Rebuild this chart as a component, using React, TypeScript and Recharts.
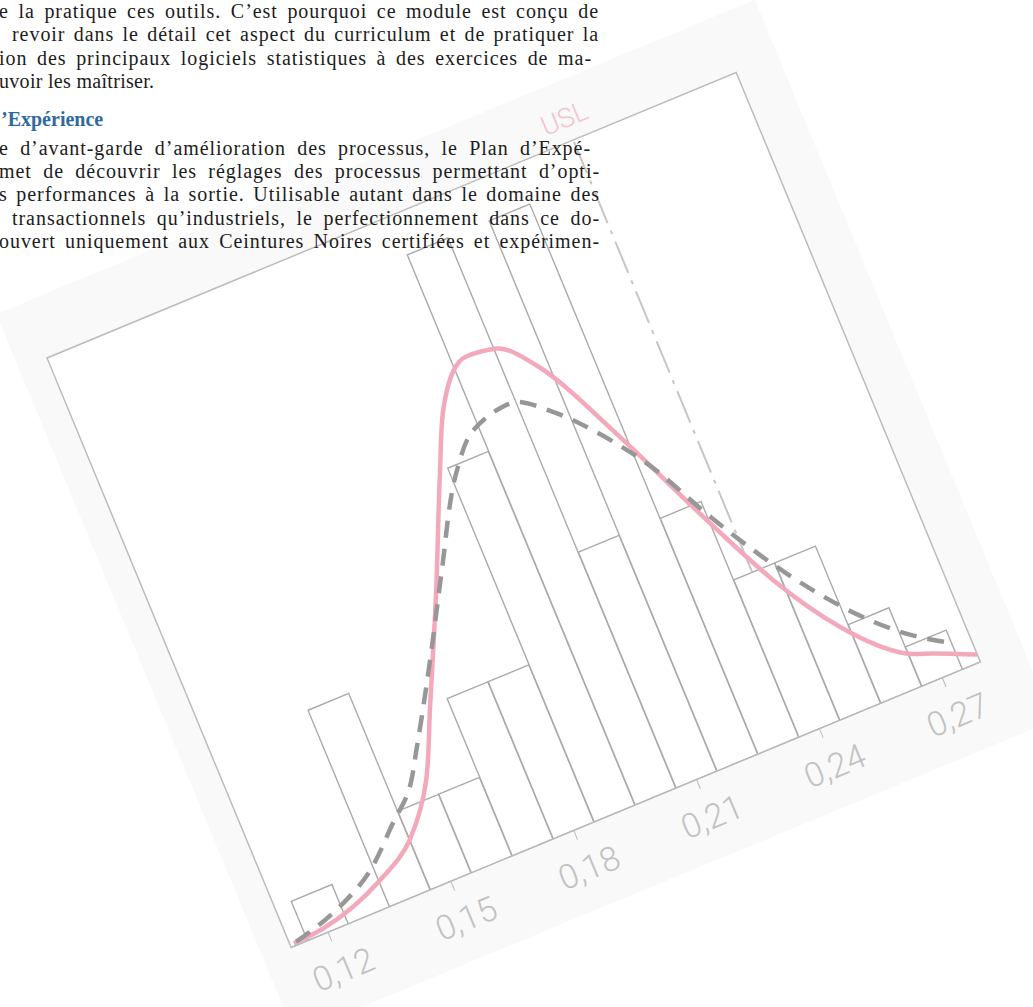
import React from 'react';
import {
  ComposedChart,
  Bar,
  Line,
  XAxis,
  YAxis,
  ReferenceLine,
  ReferenceArea,
} from 'recharts';

// ---------- data ----------
const binCenters = [0.12, 0.13, 0.14, 0.15, 0.16, 0.17, 0.18, 0.19, 0.2, 0.21, 0.22, 0.23, 0.24, 0.25, 0.26, 0.27];
const binCounts = [1, 0, 5, 2, 2, 4, 4, 9, 14, 6, 14, 6, 4, 4, 2, 1];

const xTicks = [0.12, 0.15, 0.18, 0.21, 0.24, 0.27];
const xDomain: [number, number] = [0.111, 0.2793];
const yDomain: [number, number] = [0, 15];

const uslValue = 0.2395;
const uslLabel = 'USL';

// fitted (skewed) density - solid pink
const fitX = [0.1119, 0.1191, 0.1353, 0.145, 0.1536, 0.1607, 0.1721, 0.1829, 0.1894, 0.1985, 0.2055, 0.2129, 0.224, 0.2345, 0.2432, 0.2531, 0.2646, 0.2702, 0.2793];
const fitY = [0.06, 0.12, 0.66, 1.27, 2.42, 3.97, 6.46, 8.95, 10.36, 11.26, 11.16, 10.36, 8.04, 5.55, 3.64, 2.02, 0.85, 0.61, 0.19];

// normal curve - grey dashed
const normX = [0.1125, 0.1171, 0.1247, 0.1341, 0.143, 0.1496, 0.1545, 0.1651, 0.1746, 0.1863, 0.1935, 0.2036, 0.2118, 0.2186, 0.2283, 0.235, 0.2506, 0.2646, 0.274];
const normY = [0.08, 0.19, 0.45, 0.96, 1.79, 2.42, 3.22, 5.05, 6.77, 8.81, 9.59, 9.85, 9.28, 8.51, 7.07, 5.69, 3.06, 1.43, 0.73];

const barData = binCenters.map((x, i) => ({ x, count: binCounts[i] }));
const fitData = fitX.map((x, i) => ({ x, y: fitY[i] }));
const normData = normX.map((x, i) => ({ x, y: normY[i] }));

// the spec line is hidden behind the bar of the bin it falls in
const uslBinIndex = binCenters.findIndex((c) => Math.abs(c - uslValue) <= 0.005);
const uslBottom = uslBinIndex >= 0 ? binCounts[uslBinIndex] : 0;

const fmt = (v: number) => v.toFixed(2).replace('.', ',');

// ---------- layout ----------
const PLOT_W = 746;
const PLOT_H = 638;
const M = { top: 60, right: 45, left: 30, bottom: 0 };
const AXIS_H = 82;
const CW = M.left + PLOT_W + M.right;
const CH = M.top + PLOT_H + AXIS_H;
const ORIGIN_X = 47;
const ORIGIN_Y = 358;

const serif = '"Liberation Serif", "Times New Roman", serif';

type LineProps = {
  left: number;
  baseline: number;
  right: number;
  justify?: boolean;
  children: React.ReactNode;
  heading?: boolean;
};

const TextLine = ({ left, baseline, right, justify = true, children, heading = false }: LineProps) => (
  <div
    style={{
      position: 'absolute',
      left,
      top: baseline - 18.4,
      width: right - left,
      fontFamily: serif,
      fontSize: 20,
      lineHeight: '23.3px',
      letterSpacing: justify ? 0.95 : heading ? 0 : 0.3,
      color: heading ? '#2f69a1' : '#1c1c1c',
      fontWeight: heading ? 700 : 400,
      textAlign: justify ? 'justify' : 'left',
      textAlignLast: justify ? 'justify' : 'left',
      whiteSpace: 'nowrap',
    }}
  >
    {children}
  </div>
);

const Histogram = () => (
  <div
    style={{
      position: 'absolute',
      left: ORIGIN_X - M.left,
      top: ORIGIN_Y - M.top,
      width: CW,
      height: CH,
      transformOrigin: `${M.left}px ${M.top}px`,
      transform: 'rotate(-22.5deg)',
      background: '#f9f9f9',
    }}
  >
    <div
      style={{
        position: 'absolute',
        left: M.left,
        top: M.top,
        width: PLOT_W,
        height: PLOT_H,
        background: '#ffffff',
      }}
    />
    <div style={{ position: 'absolute', left: 0, top: 0 }}>
      <ComposedChart width={CW} height={CH} data={barData} margin={M} barCategoryGap={0} barGap={0}>
        <XAxis
          xAxisId="bins"
          dataKey="x"
          type="number"
          domain={xDomain}
          ticks={xTicks}
          interval={0}
          allowDataOverflow
          tickFormatter={fmt}
          height={AXIS_H}
          stroke="#b9b9b9"
          tickSize={10}
          tickMargin={18}
          tick={{ fill: '#c2c2c2', fontSize: 34, fontFamily: 'Roboto', fontWeight: 300 }}
        />
        <XAxis xAxisId="curve" dataKey="x" type="number" domain={xDomain} allowDataOverflow hide />
        <YAxis domain={yDomain} allowDataOverflow hide />
        <Bar
          xAxisId="bins"
          dataKey="count"
          fill="#ffffff"
          stroke="#aaaaaa"
          strokeWidth={1.4}
          isAnimationActive={false}
        />
        <ReferenceLine
          xAxisId="curve"
          segment={[
            { x: uslValue, y: uslBottom },
            { x: uslValue, y: yDomain[1] },
          ]}
          stroke="#c6c6c6"
          strokeWidth={2}
          strokeDasharray="34 8 4 8"
          label={{ value: uslLabel, position: 'top', offset: 14, fill: '#f1c3ce', fontSize: 27, fontFamily: 'Roboto', fontWeight: 300 }}
        />
        <ReferenceArea
          xAxisId="curve"
          x1={xDomain[0]}
          x2={xDomain[1]}
          y1={yDomain[0]}
          y2={yDomain[1]}
          fill="none"
          fillOpacity={0}
          stroke="#bcbcbc"
          strokeWidth={1.5}
        />
        <Line
          xAxisId="curve"
          data={fitData}
          dataKey="y"
          type="monotone"
          stroke="#f4a9ba"
          strokeWidth={4.5}
          dot={false}
          isAnimationActive={false}
        />
        <Line
          xAxisId="curve"
          data={normData}
          dataKey="y"
          type="monotone"
          stroke="#979797"
          strokeWidth={4.5}
          strokeDasharray="17 11"
          dot={false}
          isAnimationActive={false}
        />
      </ComposedChart>
    </div>
  </div>
);

export default function App() {
  return (
    <div
      style={{
        position: 'absolute',
        left: 0,
        top: 0,
        width: 1033,
        height: 1007,
        overflow: 'hidden',
        background: '#ffffff',
      }}
    >
      <Histogram />
      <div style={{ position: 'absolute', left: 0, top: 0, width: 1033, height: 300, zIndex: 2 }}>
        <TextLine left={-1} baseline={18.3} right={599}>e la pratique ces outils. C’est pourquoi ce module est conçu de</TextLine>
        <TextLine left={12} baseline={41.7} right={599}>revoir dans le détail cet aspect du curriculum et de pratiquer la</TextLine>
        <TextLine left={-1} baseline={65} right={592}>ion des principaux logiciels statistiques à des exercices de ma-</TextLine>
        <TextLine left={-1} baseline={88.3} right={400} justify={false}>uvoir les maîtriser.</TextLine>
        <TextLine left={1} baseline={126.7} right={400} justify={false} heading>’Expérience</TextLine>
        <TextLine left={-1} baseline={155} right={591}>e d’avant-garde d’amélioration des processus, le Plan d’Expé-</TextLine>
        <TextLine left={-1} baseline={178.3} right={600}>met de découvrir  les réglages des processus permettant d’opti-</TextLine>
        <TextLine left={-1} baseline={201.7} right={600}>s performances à la sortie. Utilisable autant dans le domaine des</TextLine>
        <TextLine left={12} baseline={225} right={600}>transactionnels qu’industriels, le perfectionnement dans ce do-</TextLine>
        <TextLine left={-1} baseline={248.3} right={600}>ouvert uniquement aux Ceintures Noires certifiées et expérimen-</TextLine>
      </div>
    </div>
  );
}
